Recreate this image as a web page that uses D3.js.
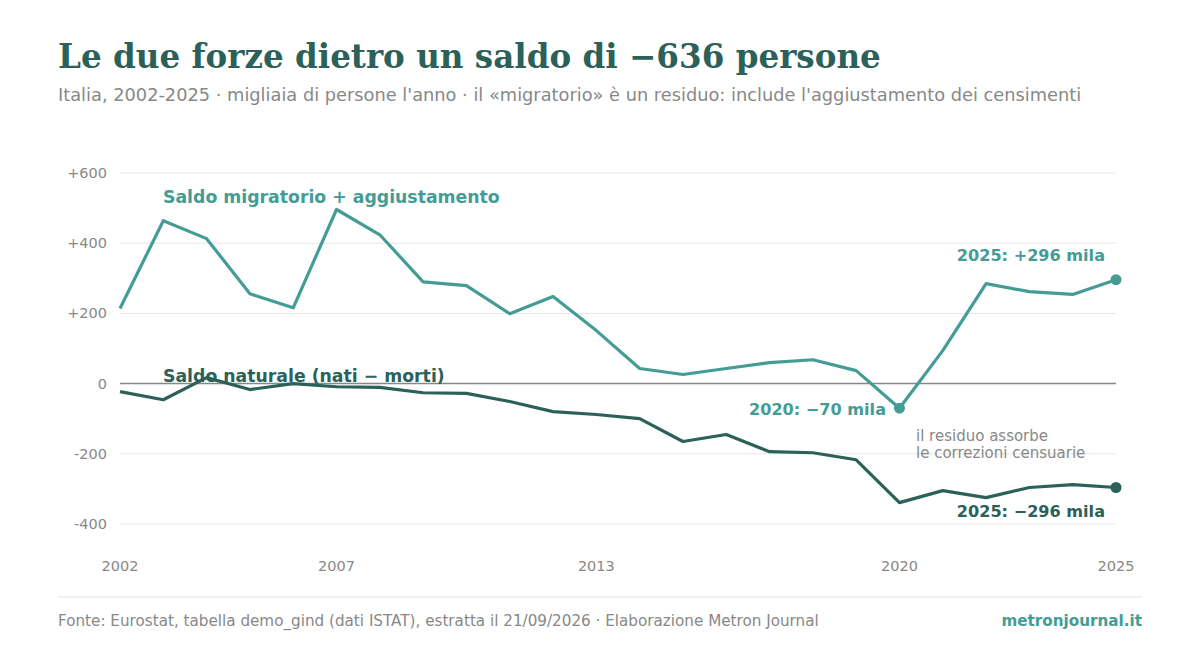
<!DOCTYPE html>
<html><head><meta charset="utf-8">
<script src="https://cdn.jsdelivr.net/npm/d3@7"></script>
<style>body{margin:0;background:#fff}</style>
</head><body><div class="canvas"></div>
<script>
// data
const years = d3.range(2002, 2026);
const migratorio = [214,464,413,256,216,496,424,290,279,199,248,151,43,26,43,60,68,37,-70,94,285,262,254,296];
const naturale = [-23,-46,17,-17,0,-9,-11,-26,-28,-51,-80,-88,-100,-165,-145,-194,-197,-217,-339,-305,-325,-296,-288,-296];
const yTicks = [600,400,200,0,-200,-400];
const yTickLabels = ['+600','+400','+200','0','-200','-400'];
const xTicks = [2002,2007,2013,2020,2025];

const dims = { width: 1200, height: 672 };
const teal = '#449c94', dark = '#2b6158';
const font = 'DejaVu Sans, sans-serif';

const svg = d3.select('.canvas').append('svg')
    .attr('width', dims.width).attr('height', dims.height);

svg.append('text').attr('x', 58).attr('y', 68)
    .attr('font-family', 'DejaVu Serif, serif').attr('font-weight', 'bold')
    .attr('font-size', 32.6).attr('fill', dark)
    .text('Le due forze dietro un saldo di \u2212636 persone');
svg.append('text').attr('x', 58).attr('y', 101)
    .attr('font-family', font).attr('font-size', 17.8).attr('fill', '#888')
    .text("Italia, 2002-2025 \u00b7 migliaia di persone l'anno \u00b7 il \u00abmigratorio\u00bb \u00e8 un residuo: include l'aggiustamento dei censimenti");

const x = d3.scaleLinear().domain([2002, 2025]).range([120, 1116]);
const y = d3.scaleLinear().domain([-400, 600]).range([524, 173]);

// grid
svg.selectAll('.grid').data(yTicks).enter().append('line')
    .attr('x1', 120).attr('x2', 1116)
    .attr('y1', d => y(d)).attr('y2', d => y(d))
    .attr('stroke', d => d === 0 ? '#888' : '#e6e6e6')
    .attr('stroke-width', d => d === 0 ? 1.5 : 1);
svg.selectAll('.ylab').data(yTicks).enter().append('text')
    .attr('x', 107).attr('y', d => y(d) + 5).attr('text-anchor', 'end')
    .attr('font-family', font).attr('font-size', 14.5).attr('fill', '#888')
    .text((d, i) => yTickLabels[i]);
svg.selectAll('.xlab').data(xTicks).enter().append('text')
    .attr('x', d => x(d)).attr('y', 571).attr('text-anchor', 'middle')
    .attr('font-family', font).attr('font-size', 14.5).attr('fill', '#888')
    .text(d => d);

const line = d3.line().x((d, i) => x(years[i])).y(d => y(d));
[[migratorio, teal], [naturale, dark]].forEach(([s, c]) => {
    svg.append('path').datum(s).attr('d', line)
        .attr('fill', 'none').attr('stroke', c).attr('stroke-width', 3.2)
        .attr('stroke-linejoin', 'round');
});

svg.append('circle').attr('cx', x(2020)).attr('cy', y(-70)).attr('r', 5.5).attr('fill', teal);
svg.append('circle').attr('cx', x(2025)).attr('cy', y(296)).attr('r', 5.5).attr('fill', teal);
svg.append('circle').attr('cx', x(2025)).attr('cy', y(-296)).attr('r', 5.5).attr('fill', dark);

function label(t, xx, yy, c, anchor, size, weight) {
    svg.append('text').attr('x', xx).attr('y', yy).attr('text-anchor', anchor || 'start')
        .attr('font-family', font).attr('font-size', size || 17.3)
        .attr('font-weight', weight || 'bold').attr('fill', c).text(t);
}
label('Saldo migratorio + aggiustamento', 163, 203, teal);
label('Saldo naturale (nati \u2212 morti)', 163, 382, dark);
label('2025: +296 mila', 1105, 261, teal, 'end', 16.1);
label('2020: \u221270 mila', 886, 415, teal, 'end', 16.1);
label('2025: \u2212296 mila', 1105, 517, dark, 'end', 16.1);
label('il residuo assorbe', 916, 441, '#888', 'start', 15, 'normal');
label('le correzioni censuarie', 916, 458, '#888', 'start', 15, 'normal');

svg.append('line').attr('x1', 58).attr('x2', 1142).attr('y1', 597).attr('y2', 597).attr('stroke', '#e0e0e0');
label('Fonte: Eurostat, tabella demo_gind (dati ISTAT), estratta il 21/09/2026 \u00b7 Elaborazione Metron Journal', 58, 626, '#888', 'start', 15.2, 'normal');
label('metronjournal.it', 1142, 626, teal, 'end', 15.2);
</script></body></html>
